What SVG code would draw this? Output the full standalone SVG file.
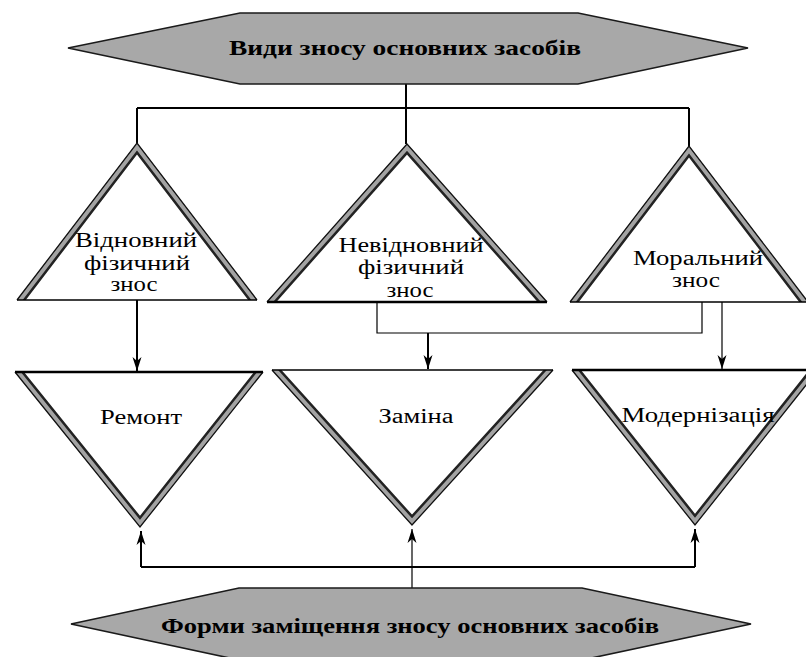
<svg xmlns="http://www.w3.org/2000/svg" width="806" height="657" viewBox="0 0 806 657">
  <style>
    .hex { fill: #a8a8a8; stroke: #1a1a1a; stroke-width: 1.6; }
    .title { font-family: "Liberation Serif", "DejaVu Serif", serif; font-weight: bold; font-size: 21px; fill: #000; text-anchor: middle; }
    .lbl { font-family: "Liberation Serif", "DejaVu Serif", serif; font-size: 20px; fill: #000; text-anchor: middle; }
    .tri { fill: #fff; }
    .bandDark { fill: none; stroke: #222; stroke-width: 14; stroke-linejoin: miter; }
    .bandGray { fill: none; stroke: #a3a3a3; stroke-width: 9; stroke-linejoin: miter; }
    .edge { fill: none; stroke: #111; stroke-width: 1.3; stroke-linejoin: miter; }
    .base { stroke: #000; stroke-width: 1.5; }
    .baseThick { stroke: #000; stroke-width: 2.6; }
    .wire { fill: none; stroke: #000; stroke-width: 2; }
    .wireThin { fill: none; stroke: #000; stroke-width: 1.2; }
  </style>
  <defs>
    <marker id="arrow" markerUnits="userSpaceOnUse" markerWidth="16" markerHeight="12" refX="14" refY="6" orient="auto">
      <path d="M0,1.5 L14,6 L0,10.5 L4,6 z" fill="#000"/>
    </marker>
    <clipPath id="c-ul"><polygon points="137,143 17,300 257,300"/></clipPath>
    <clipPath id="c-um"><polygon points="407,144 267,302 547,302"/></clipPath>
    <clipPath id="c-ur"><polygon points="689,146 570,302 808,302"/></clipPath>
    <clipPath id="c-ll"><polygon points="15,372 263,372 140,527"/></clipPath>
    <clipPath id="c-lm"><polygon points="272,370 553,370 412,525"/></clipPath>
    <clipPath id="c-lr"><polygon points="572,370 818,370 695,525"/></clipPath>
  </defs>

  <rect width="806" height="657" fill="#fff"/>

  <!-- connectors -->
  <g id="connectors">
    <!-- from the top heading to the three kinds of wear -->
    <path class="wire" d="M406,84 V108"/>
    <path class="wire" d="M137,108 H689"/>
    <path class="wire" d="M137,108 V143"/>
    <path class="wire" d="M406,108 V144" stroke-width="3"/>
    <path class="wire" d="M689,108 V146"/>
    <!-- from wear types to forms of replacement -->
    <path class="wire" d="M137,300 V371" stroke-width="2.6" marker-end="url(#arrow)"/>
    <path class="wireThin" d="M377,302 V333 H702 V302"/>
    <path class="wire" d="M428,333 V369" marker-end="url(#arrow)"/>
    <path class="wireThin" d="M722,302 V369" marker-end="url(#arrow)"/>
    <!-- from the bottom heading up to the forms -->
    <path class="wire" d="M141,567 H695"/>
    <path class="wire" d="M141,567 V531" marker-end="url(#arrow)"/>
    <path class="wireThin" d="M412,588 V529" marker-end="url(#arrow)"/>
    <path class="wire" d="M695,567 V529" marker-end="url(#arrow)"/>
  </g>

  <!-- top heading -->
  <g id="kinds-of-wear">
    <polygon class="hex" points="68,48 240,13 578,13 748,48 578,84 240,84"/>
    <text class="title" x="405" y="55" textLength="352" lengthAdjust="spacingAndGlyphs">Види зносу основних засобів</text>
  </g>

  <!-- upper triangles -->
  <g id="recoverable-physical">
    <polygon class="tri" points="137,143 17,300 257,300"/>
    <g clip-path="url(#c-ul)">
      <polyline class="bandDark" points="17,300 137,143 257,300"/>
      <polyline class="bandGray" points="17,300 137,143 257,300"/>
    </g>
    <polyline class="edge" points="17,300 137,143 257,300"/>
    <line class="base" x1="17" y1="300" x2="257" y2="300"/>
    <text class="lbl" x="136" y="247" textLength="122" lengthAdjust="spacingAndGlyphs">Відновний</text>
    <text class="lbl" x="137" y="270" textLength="106" lengthAdjust="spacingAndGlyphs">фізичний</text>
    <text class="lbl" x="134" y="291" textLength="47" lengthAdjust="spacingAndGlyphs">знос</text>
  </g>

  <g id="irrecoverable-physical">
    <polygon class="tri" points="407,144 267,302 547,302"/>
    <g clip-path="url(#c-um)">
      <polyline class="bandDark" points="267,302 407,144 547,302"/>
      <polyline class="bandGray" points="267,302 407,144 547,302"/>
    </g>
    <polyline class="edge" points="267,302 407,144 547,302"/>
    <line class="baseThick" x1="267" y1="302" x2="547" y2="302"/>
    <text class="lbl" x="411" y="252" textLength="145" lengthAdjust="spacingAndGlyphs">Невідновний</text>
    <text class="lbl" x="411" y="274" textLength="106" lengthAdjust="spacingAndGlyphs">фізичний</text>
    <text class="lbl" x="410" y="297" textLength="47" lengthAdjust="spacingAndGlyphs">знос</text>
  </g>

  <g id="moral">
    <polygon class="tri" points="689,146 570,302 808,302"/>
    <g clip-path="url(#c-ur)">
      <polyline class="bandDark" points="570,302 689,146 808,302"/>
      <polyline class="bandGray" points="570,302 689,146 808,302"/>
    </g>
    <polyline class="edge" points="570,302 689,146 808,302"/>
    <line class="base" x1="570" y1="302" x2="808" y2="302"/>
    <text class="lbl" x="698" y="265" textLength="130" lengthAdjust="spacingAndGlyphs">Моральний</text>
    <text class="lbl" x="696" y="287" textLength="48" lengthAdjust="spacingAndGlyphs">знос</text>
  </g>

  <!-- lower triangles -->
  <g id="repair">
    <polygon class="tri" points="15,372 263,372 140,527"/>
    <g clip-path="url(#c-ll)">
      <polyline class="bandDark" points="15,372 140,527 263,372"/>
      <polyline class="bandGray" points="15,372 140,527 263,372"/>
    </g>
    <polyline class="edge" points="15,372 140,527 263,372"/>
    <line class="baseThick" x1="15" y1="372" x2="263" y2="372"/>
    <text class="lbl" x="141" y="424" textLength="82" lengthAdjust="spacingAndGlyphs">Ремонт</text>
  </g>

  <g id="replacement">
    <polygon class="tri" points="272,370 553,370 412,525"/>
    <g clip-path="url(#c-lm)">
      <polyline class="bandDark" points="272,370 412,525 553,370"/>
      <polyline class="bandGray" points="272,370 412,525 553,370"/>
    </g>
    <polyline class="edge" points="272,370 412,525 553,370"/>
    <line class="base" x1="272" y1="370" x2="553" y2="370"/>
    <text class="lbl" x="416" y="423" textLength="75" lengthAdjust="spacingAndGlyphs">Заміна</text>
  </g>

  <g id="modernization">
    <polygon class="tri" points="572,370 818,370 695,525"/>
    <g clip-path="url(#c-lr)">
      <polyline class="bandDark" points="572,370 695,525 818,370"/>
      <polyline class="bandGray" points="572,370 695,525 818,370"/>
    </g>
    <polyline class="edge" points="572,370 695,525 818,370"/>
    <line class="baseThick" x1="572" y1="370" x2="818" y2="370"/>
    <text class="lbl" x="698" y="422" textLength="153" lengthAdjust="spacingAndGlyphs">Модернізація</text>
  </g>

  <!-- bottom heading -->
  <g id="forms-of-replacement">
    <polygon class="hex" points="71,624 239,588 582,588 751,624 582,660 239,660"/>
    <text class="title" x="410" y="633" textLength="498" lengthAdjust="spacingAndGlyphs">Форми заміщення зносу основних засобів</text>
  </g>
</svg>
